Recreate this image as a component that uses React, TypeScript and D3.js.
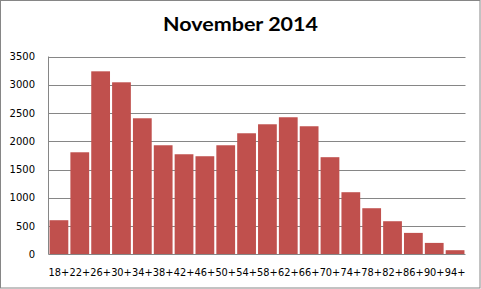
import React from "react";
import * as d3 from "d3";

const categories = ["18+","22+","26+","30+","34+","38+","42+","46+","50+","54+","58+","62+","66+","70+","74+","78+","82+","86+","90+","94+"];
const values = [606,1807,3238,3044,2408,1931,1772,1737,1931,2143,2302,2426,2267,1720,1101,818,588,382,205,76];
const yTicks = [0,500,1000,1500,2000,2500,3000,3500];
const title = "November 2014";

const W = 481, H = 289;
const left = 48.5, right = 465.5, top = 56.5, bottom = 254.5;

export default function App() {
  const x = d3.scaleBand<string>().domain(categories).range([left, right]).paddingInner(0.1).paddingOuter(0.05);
  const y = d3.scaleLinear().domain([0, 3500]).range([bottom, top]);
  return (
    <svg width={W} height={H} style={{ position: "absolute", left: 0, top: 0, display: "block" }}>
      <rect x={0} y={0} width={W} height={H} fill="#fff" />
      <rect x={0.5} y={0.5} width={479.5} height={287.5} fill="none" stroke="#868686" strokeWidth={1} />
      <text x={240.5} y={31} textAnchor="middle" fontFamily="Lato, 'Open Sans', sans-serif" fontWeight="bold" fontSize={19} textLength={155} lengthAdjust="spacingAndGlyphs" fill="#000">{title}</text>
      {yTicks.filter(t => t > 0).map(t => (
        <line key={t} x1={left} x2={right} y1={Math.round(y(t)) + 0.5} y2={Math.round(y(t)) + 0.5} stroke="#868686" strokeWidth={1} />
      ))}
      {values.map((v, i) => (
        <rect key={categories[i]} x={x(categories[i])!} y={y(v)} width={x.bandwidth()} height={bottom - y(v)} fill="#C0504D" />
      ))}
      <line x1={left} x2={left} y1={top} y2={bottom} stroke="#868686" strokeWidth={1} />
      <line x1={left} x2={right} y1={bottom} y2={bottom} stroke="#868686" strokeWidth={1} />
      {yTicks.map(t => (
        <text key={t} x={35} y={y(t) + 3.5} textAnchor="end" fontFamily="'DejaVu Sans', sans-serif" fontSize={10} fill="#000">{t}</text>
      ))}
      {categories.map(c => (
        <text key={c} x={x(c)! + x.bandwidth() / 2} y={276} textAnchor="middle" fontFamily="'DejaVu Sans', sans-serif" fontSize={9.8} fill="#000">{c}</text>
      ))}
    </svg>
  );
}
